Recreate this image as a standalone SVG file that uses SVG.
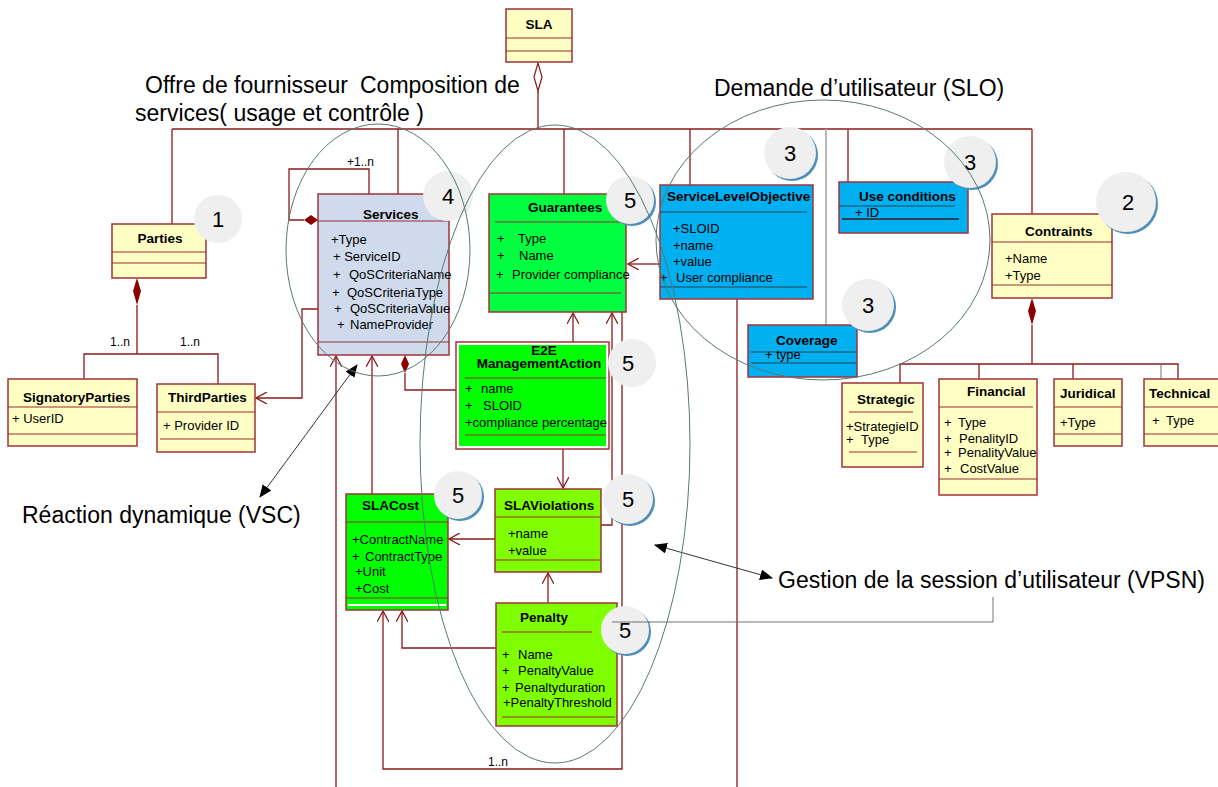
<svg xmlns="http://www.w3.org/2000/svg" width="1218" height="787" viewBox="0 0 1218 787">
<style>
.bg{fill:#ffffff}
.y{fill:#ffffc4;stroke:#a0333a;stroke-width:1.5}
.sv{fill:#cfdbec;stroke:#a0333a;stroke-width:1.5}
.g1{fill:#00ff40;stroke:#a0333a;stroke-width:1.5}
.g2{fill:#00ff00;stroke:#a0333a;stroke-width:1.5}
.g3{fill:#80ff00;stroke:#a0333a;stroke-width:1.5}
.bl{fill:#00b0f0;stroke:#a0333a;stroke-width:1.5}
.sep{stroke:#9b2f35;stroke-width:1.2;fill:none}
.sepb{stroke:#2e4255;stroke-width:1.2;fill:none}
.conn{stroke:#8b1a1a;stroke-width:1.3;fill:none}
.grey{stroke:#b8b8b8;stroke-width:2;fill:none}
.grey1{stroke:#707070;stroke-width:1;fill:none}
.ell{stroke:#5a7a70;stroke-width:1;fill:none}
.blk{stroke:#333;stroke-width:1;fill:none}
.t{font-family:"Liberation Sans",Arial,sans-serif;font-weight:bold;font-size:13.5px;fill:#000}
.a{font-family:"Liberation Sans",Arial,sans-serif;font-size:13px;fill:#000}
.big{font-family:"Liberation Sans",Arial,sans-serif;font-size:23px;fill:#000}
.num{font-family:"Liberation Sans",Arial,sans-serif;font-size:22px;fill:#000;text-anchor:middle}
.cc{fill:#efefef}
.cs{fill:#4f8fb8}
.lbl{font-family:"Liberation Sans",Arial,sans-serif;font-size:12px;fill:#000}
</style>
<defs>
<marker id="open" viewBox="0 0 12 12" refX="11" refY="6" markerWidth="12" markerHeight="12" markerUnits="userSpaceOnUse" orient="auto">
<path d="M0,0 L11,6 L0,12" fill="none" stroke="#8b1a1a" stroke-width="1.3"/>
</marker>
<marker id="blkarrow" viewBox="0 0 12 10" refX="11" refY="5" markerWidth="13" markerHeight="11" markerUnits="userSpaceOnUse" orient="auto-start-reverse">
<path d="M0,0 L12,5 L0,10 Z" fill="#000"/>
</marker>
</defs>
<rect class="bg" x="0" y="0" width="1218" height="787"/>

<g id="connectors">
<polygon points="538,63 542,77 538,91 534,77" fill="#fff" stroke="#8b1a1a" stroke-width="1.2"/>
<path class="conn" d="M538,91 V129"/>
<path class="conn" d="M172,129 H1032"/>
<path class="conn" d="M172,129 V224"/>
<path class="conn" d="M398,129 V194"/>
<path class="conn" d="M564,129 V194"/>
<path class="conn" d="M690,129 V185"/>
<path class="conn" d="M848,129 V182"/>
<path class="conn" d="M1032,129 V214"/>
<path class="grey" d="M826,129 V325"/>
<path class="conn" d="M369,194 V169 H289 V220 H304"/>
<polygon points="304,220 311,215 318,220 311,225" fill="#8b0000"/>
<polygon points="137,278 141,291 137,305 133,291" fill="#8b0000"/>
<path class="conn" d="M137,305 V354 M84,379 V354 H218 V384"/>
<path class="conn" d="M318,309 H302 V398 H256" marker-end="url(#open)"/>
<path class="conn" d="M660,264 H628" marker-end="url(#open)"/>
<path class="conn" d="M737,299 V787"/>
<path class="conn" d="M336,787 V356" marker-end="url(#open)"/>
<path class="conn" d="M372,494 V356" marker-end="url(#open)"/>
<polygon points="405,355 409,364 405,373 401,364" fill="#8b0000"/>
<path class="conn" d="M405,373 V390 H456"/>
<path class="conn" d="M573,342 V313" marker-end="url(#open)"/>
<path class="conn" d="M601,525 H612 V313" marker-end="url(#open)"/>
<path class="conn" d="M622,312 V769 H383 V611" marker-end="url(#open)"/>
<path class="conn" d="M563,449 V488" marker-end="url(#open)"/>
<path class="conn" d="M495,539 H449" marker-end="url(#open)"/>
<path class="conn" d="M548,603 V573" marker-end="url(#open)"/>
<path class="conn" d="M496,648 H402 V611" marker-end="url(#open)"/>
<polygon points="1032,298 1036,311 1032,325 1028,311" fill="#8b0000"/>
<path class="conn" d="M1032,325 V364 M900,383 V364 H1178 V379 M979,364 V379 M1073,364 V379"/>
<path class="grey1" d="M1161,364 V386"/>
<path class="grey1" d="M612,622 H993 V597"/>
<path class="blk" d="M357,365 L260,497" marker-start="url(#blkarrow)" marker-end="url(#blkarrow)"/>
<path class="blk" d="M655,545 L772,578" marker-start="url(#blkarrow)" marker-end="url(#blkarrow)"/>
<text class="lbl" x="347" y="166">+1..n</text>
<text class="lbl" x="110" y="346">1..n</text>
<text class="lbl" x="180" y="346">1..n</text>
<text class="lbl" x="488" y="766">1..n</text>
</g>

<g id="SLA">
<rect class="y" x="506" y="9" width="66" height="53"/>
<path class="sep" d="M506,38 H572 M506,51 H572"/>
<text class="t" x="539" y="29" text-anchor="middle">SLA</text>
</g>

<g id="Parties">
<rect class="y" x="112" y="224" width="94" height="54"/>
<path class="sep" d="M112,252 H206 M112,263 H206"/>
<text class="t" x="160" y="243" text-anchor="middle">Parties</text>
</g>

<g id="SignatoryParties">
<rect class="y" x="8" y="379" width="129" height="67"/>
<path class="sep" d="M8,407 H137 M8,434 H137"/>
<text class="t" x="23" y="402">SignatoryParties</text>
<text class="a" x="12" y="423">+ UserID</text>
</g>

<g id="ThirdParties">
<rect class="y" x="157" y="384" width="98" height="68"/>
<path class="sep" d="M157,412 H255 M160,439 H255"/>
<text class="t" x="168" y="402">ThirdParties</text>
<text class="a" x="163" y="430">+ Provider ID</text>
</g>

<g id="Services">
<rect class="sv" x="318" y="194" width="131" height="161"/>
<path class="sep" d="M318,221 H450 M318,342 H449"/>
<text class="t" x="363" y="219">Services</text>
<text class="a" x="331" y="244">+Type</text>
<text class="a" y="261"><tspan x="333">+ ServiceID</tspan></text>
<text class="a" y="279"><tspan x="333">+</tspan><tspan x="349">QoSCriteriaName</tspan></text>
<text class="a" y="297"><tspan x="332">+</tspan><tspan x="347">QoSCriteriaType</tspan></text>
<text class="a" y="313"><tspan x="334">+</tspan><tspan x="350">QoSCriteriaValue</tspan></text>
<text class="a" y="329"><tspan x="337">+</tspan><tspan x="350">NameProvider</tspan></text>
</g>

<g id="Guarantees">
<rect class="g1" x="489" y="194" width="137" height="118"/>
<path class="sep" d="M495,222 H626 M489,293 H621"/>
<text class="t" x="528" y="212">Guarantees</text>
<text class="a" y="243"><tspan x="497">+</tspan><tspan x="518">Type</tspan></text>
<text class="a" y="260"><tspan x="497">+</tspan><tspan x="519">Name</tspan></text>
<text class="a" y="279"><tspan x="496">+</tspan><tspan x="512">Provider compliance</tspan></text>
</g>

<g id="ServiceLevelObjective">
<rect class="bl" x="660" y="185" width="153" height="114" stroke="none"/>
<path class="sepb" d="M660,212 H807 M660,287 H807"/>
<text class="t" x="667" y="201">ServiceLevelObjective</text>
<text class="a" x="673" y="233">+SLOID</text>
<text class="a" x="673" y="250">+name</text>
<text class="a" x="673" y="266">+value</text>
<text class="a" y="282"><tspan x="660">+</tspan><tspan x="676">User compliance</tspan></text>
</g>

<g id="UseConditions">
<rect class="bl" x="839" y="182" width="129" height="51"/>
<path class="sepb" d="M839,206 H955"/>
<path d="M842,219 H959" stroke="#2e4255" stroke-width="2"/>
<text class="t" x="859" y="201">Use conditions</text>
<text class="a" x="855" y="217">+ ID</text>
</g>

<g id="Coverage">
<rect class="bl" x="748" y="325" width="109" height="52"/>
<path class="sepb" d="M751,352 H857 M751,363 H857"/>
<text class="t" x="776" y="345">Coverage</text>
<text class="a" x="765" y="359">+ type</text>
</g>

<g id="Contraints">
<rect class="y" x="992" y="214" width="120" height="84"/>
<path class="sep" d="M992,242 H1112 M992,285 H1112"/>
<text class="t" x="1025" y="236">Contraints</text>
<text class="a" x="1005" y="263">+Name</text>
<text class="a" x="1005" y="280">+Type</text>
</g>

<g id="Strategic">
<rect class="y" x="842" y="383" width="81" height="84"/>
<path class="sep" d="M849,412 H913 M849,452 H917"/>
<text class="t" x="857" y="404">Strategic</text>
<text class="a" x="846" y="431">+StrategieID</text>
<text class="a" y="444"><tspan x="846">+</tspan><tspan x="861">Type</tspan></text>
</g>

<g id="Financial">
<rect class="y" x="939" y="379" width="98" height="116"/>
<path class="sep" d="M939,407 H1033 M939,479 H1037"/>
<text class="t" x="967" y="396">Financial</text>
<text class="a" y="427"><tspan x="944">+</tspan><tspan x="958">Type</tspan></text>
<text class="a" y="443"><tspan x="944">+</tspan><tspan x="959">PenalityID</tspan></text>
<text class="a" y="457"><tspan x="944">+</tspan><tspan x="958">PenalityValue</tspan></text>
<text class="a" y="473"><tspan x="944">+</tspan><tspan x="960">CostValue</tspan></text>
</g>

<g id="Juridical">
<rect class="y" x="1054" y="379" width="68" height="67"/>
<path class="sep" d="M1054,407 H1122 M1054,434 H1122"/>
<text class="t" x="1060" y="398">Juridical</text>
<text class="a" x="1060" y="427">+Type</text>
</g>

<g id="Technical">
<rect class="y" x="1144" y="379" width="80" height="67"/>
<path class="sep" d="M1144,407 H1218 M1144,434 H1218"/>
<text class="t" x="1149" y="398">Technical</text>
<text class="a" y="425"><tspan x="1152">+</tspan><tspan x="1166">Type</tspan></text>
</g>

<g id="E2EManagementAction">
<rect x="456" y="342" width="153" height="107" fill="#fff" stroke="#a0333a" stroke-width="1.5"/>
<rect x="459" y="345" width="147" height="101" fill="#00ff00"/>
<path class="sep" d="M465,378 H606 M465,435 H606"/>
<text class="t" x="544" y="355" text-anchor="middle">E2E</text>
<text class="t" x="539" y="368" text-anchor="middle">ManagementAction</text>
<text class="a" y="393"><tspan x="465">+</tspan><tspan x="481">name</tspan></text>
<text class="a" y="410"><tspan x="465">+</tspan><tspan x="483">SLOID</tspan></text>
<text class="a" x="465" y="427">+compliance percentage</text>
</g>

<g id="SLAViolations">
<rect class="g3" x="495" y="489" width="106" height="83"/>
<path class="sep" d="M495,517 H601 M495,560 H601"/>
<text class="t" x="504" y="510">SLAViolations</text>
<text class="a" x="508" y="538">+name</text>
<text class="a" x="508" y="555">+value</text>
</g>

<g id="SLACost">
<rect class="g2" x="346" y="494" width="102" height="116"/>
<path class="sep" d="M346,522 H448 M346,598 H448"/>
<path d="M348,605 H446" stroke="#fff" stroke-width="2"/>
<text class="t" x="362" y="510">SLACost</text>
<text class="a" x="352" y="544">+ContractName</text>
<text class="a" y="561"><tspan x="352">+</tspan><tspan x="365">ContractType</tspan></text>
<text class="a" x="355" y="576">+Unit</text>
<text class="a" x="355" y="593">+Cost</text>
</g>

<g id="Penalty">
<rect class="g3" x="496" y="603" width="121" height="123"/>
<path class="sep" d="M502,632 H592 M502,717 H615"/>
<text class="t" x="520" y="622">Penalty</text>
<text class="a" y="659"><tspan x="502">+</tspan><tspan x="518">Name</tspan></text>
<text class="a" y="675"><tspan x="502">+</tspan><tspan x="518">PenaltyValue</tspan></text>
<text class="a" y="692"><tspan x="502">+</tspan><tspan x="515">Penaltyduration</tspan></text>
<text class="a" x="503" y="707">+PenaltyThreshold</text>
</g>

<g id="labels">
<text class="big" x="145" y="93">Offre de fournisseur</text>
<text class="big" x="360" y="93">Composition de</text>
<text class="big" x="135" y="121">services( usage et contrôle )</text>
<text class="big" x="714" y="96">Demande d’utilisateur (SLO)</text>
<text class="big" x="22" y="523">Réaction dynamique (VSC)</text>
<text class="big" x="778" y="588">Gestion de la session d’utilisateur (VPSN)</text>
</g>

<g id="badges">
<circle class="cc" cx="218" cy="219" r="24"/><text class="num" x="218" y="227">1</text>
<circle class="cc" cx="448" cy="196" r="25"/><text class="num" x="448" y="204">4</text>
<circle class="cs" cx="632" cy="202" r="24"/><circle class="cc" cx="630" cy="200" r="24"/><text class="num" x="630" y="208">5</text>
<circle class="cs" cx="792" cy="155" r="26"/><circle class="cc" cx="790" cy="153" r="26"/><text class="num" x="790" y="161">3</text>
<circle class="cs" cx="972" cy="164" r="26"/><circle class="cc" cx="970" cy="162" r="26"/><text class="num" x="970" y="170">3</text>
<circle class="cs" cx="1128" cy="204" r="30"/><circle class="cc" cx="1126" cy="202" r="30"/><text class="num" x="1128" y="210">2</text>
<circle class="cs" cx="870" cy="307" r="26"/><circle class="cc" cx="868" cy="305" r="26"/><text class="num" x="868" y="313">3</text>
<circle class="cc" cx="632" cy="363" r="24"/><text class="num" x="628" y="371">5</text>
<circle class="cs" cx="460" cy="497" r="24"/><circle class="cc" cx="458" cy="495" r="24"/><text class="num" x="458" y="503">5</text>
<circle class="cs" cx="630" cy="501" r="25"/><circle class="cc" cx="628" cy="499" r="25"/><text class="num" x="628" y="507">5</text>
<circle class="cs" cx="627" cy="632" r="24"/><circle class="cc" cx="625" cy="630" r="24"/><text class="num" x="625" y="638">5</text>
<path class="grey1" d="M612,622 H650"/>
</g>

<g id="groupings">
<ellipse class="ell" cx="378" cy="250" rx="92" ry="126"/>
<ellipse class="ell" cx="555" cy="444" rx="135" ry="319"/>
<ellipse class="ell" cx="823" cy="240" rx="167" ry="140"/>
</g>
</svg>
